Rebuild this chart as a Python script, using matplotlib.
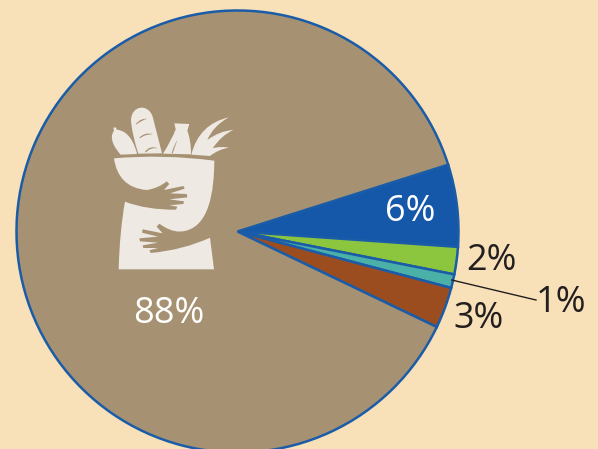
import matplotlib
matplotlib.use("Agg")
import matplotlib.pyplot as plt
from matplotlib.path import Path
from matplotlib.patches import PathPatch

plt.rcParams['font.family'] = ['Open Sans', 'DejaVu Sans']

categories = ['Blue', 'Green', 'Teal', 'Brown', 'Tan']
values = [6, 2, 1, 3, 88]
labels = ['6%', '2%', '1%', '3%', '88%']
colors = ['#1557A8', '#8CC63F', '#4BB0A8', '#9C4D20', '#A69272']
BG = '#F8E1B8'
EDGE = '#1B5CA8'
ICON = '#EEE9E3'
TAN = '#A69272'
DARK = '#231F20'
H = 449

fig = plt.figure(figsize=(5.98, 4.49), dpi=100, facecolor=BG)
ax = fig.add_axes([0, 0, 1, 1])
ax.pie(values, colors=colors, startangle=17.6, counterclock=False,
       center=(237.5, H - 231.5), radius=221, frame=True,
       wedgeprops=dict(edgecolor=EDGE, linewidth=1.8))
ax.set_xlim(0, 598)
ax.set_ylim(0, H)
ax.set_aspect('equal')
ax.axis('off')


def P(z):
    return (90 + z[0] / 3, H - (90 + z[1] / 3))


def shape(segs, color, z=5):
    verts, codes = [], []
    for seg in segs:
        kind, pts = seg[0], seg[1:]
        code = {'M': Path.MOVETO, 'L': Path.LINETO, 'Q': Path.CURVE3, 'C': Path.CURVE4}[kind]
        for p in pts:
            verts.append(P(p))
            codes.append(code)
    verts.append(verts[0])
    codes.append(Path.CLOSEPOLY)
    ax.add_patch(PathPatch(Path(verts, codes), facecolor=color, edgecolor='none', zorder=z))


# bag silhouette
shape([('M', (72, 205)), ('Q', (220, 192), (373, 212)), ('C', (372, 300), (360, 420), (270, 425)),
       ('L', (230, 430)), ('L', (240, 470)), ('L', (360, 443)), ('L', (372, 538)), ('L', (86, 538)),
       ('C', (88, 460), (95, 390), (105, 335)), ('L', (170, 300)), ('C', (110, 295), (80, 260), (72, 205))], ICON)
# upper arm
shape([('M', (105, 335)), ('L', (105, 300)), ('L', (170, 300)), ('Q', (205, 295), (230, 274)), ('L', (238, 282)),
       ('L', (222, 300)), ('L', (280, 288)), ('L', (284, 296)), ('L', (240, 310)), ('L', (290, 312)),
       ('L', (292, 322)), ('L', (238, 328)), ('L', (282, 334)), ('L', (280, 342)), ('L', (238, 346)),
       ('L', (262, 350)), ('L', (258, 359)), ('Q', (170, 360), (105, 335))], TAN, 6)
# lower arm and fingers
shape([('M', (360, 443)), ('Q', (280, 480), (182, 489)), ('L', (178, 481)), ('L', (204, 474)),
       ('L', (160, 474)), ('L', (158, 466)), ('L', (204, 458)), ('L', (150, 454)), ('L', (148, 445)),
       ('L', (204, 440)), ('L', (156, 428)), ('L', (158, 418)), ('L', (218, 430)), ('L', (200, 410)),
       ('L', (208, 401)), ('Q', (240, 425), (270, 425)), ('L', (360, 430))], TAN, 6)
# sausage
shape([('M', (70, 113)), ('L', (78, 112)), ('L', (80, 119)), ('C', (118, 122), (135, 165), (141, 192)),
       ('L', (92, 194)), ('C', (75, 175), (55, 145), (72, 122))], ICON)
# baguette
shape([('M', (123, 90)), ('C', (125, 45), (175, 40), (188, 80)), ('L', (216, 190)), ('L', (145, 191)),
       ('Q', (125, 130), (123, 90))], ICON)
shape([('M', (137, 103)), ('Q', (150, 85), (172, 86)), ('Q', (152, 92), (140, 103))], TAN, 6)
shape([('M', (148, 143)), ('Q', (165, 125), (190, 133)), ('Q', (165, 132), (150, 145))], TAN, 6)
shape([('M', (165, 185)), ('Q', (180, 165), (204, 175)), ('Q', (180, 172), (168, 187))], TAN, 6)
# bottle
shape([('M', (219, 191)), ('Q', (245, 150), (257, 118)), ('L', (253, 100)), ('L', (298, 102)),
       ('L', (292, 122)), ('Q', (303, 150), (303, 193))], ICON)
shape([('M', (245, 190)), ('Q', (252, 165), (262, 150)), ('L', (248, 190))], TAN, 6)
# leaves
shape([('M', (304, 194)), ('C', (320, 130), (360, 95), (416, 82)), ('C', (385, 100), (365, 120), (352, 150)),
       ('Q', (390, 122), (430, 120)), ('Q', (395, 135), (368, 175)), ('Q', (390, 168), (417, 173)),
       ('Q', (385, 178), (360, 198))], ICON)

text_kw = dict(ha='center', va='center', fontsize=26, zorder=7)
label_pos = [(410, 212, 'white'), (491, 261, DARK), (561, 303, DARK), (479, 319, DARK), (169, 314, 'white')]
for lab, (x, y, c) in zip(labels, label_pos):
    ax.text(x, H - y, lab, color=c, **text_kw)
ax.plot([451.7, 536], [H - 280, H - 300], color=DARK, lw=1, zorder=7, clip_on=False)

fig.savefig('out.png', dpi=100, facecolor=BG)
